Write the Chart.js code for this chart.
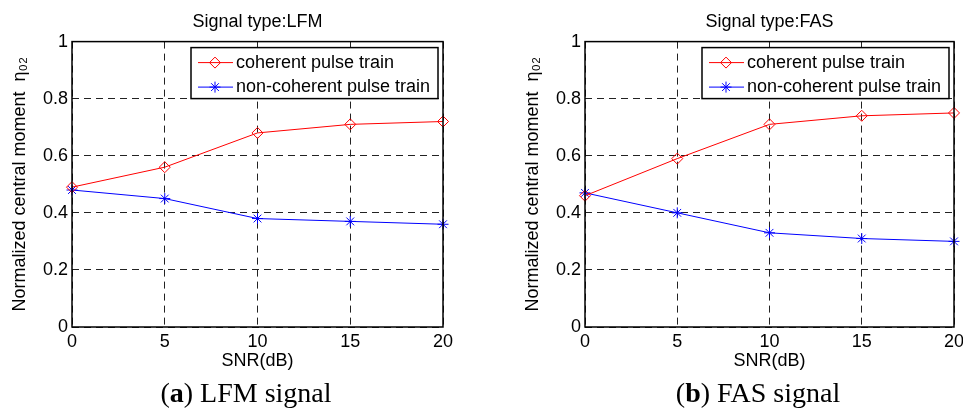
<!DOCTYPE html>
<html>
<head>
<meta charset="utf-8">
<script src="https://cdn.jsdelivr.net/npm/chart.js@4.4.1/dist/chart.umd.min.js"></script>
<style>
  html, body { margin: 0; padding: 0; background: #fff; }
  body { width: 963px; height: 410px; overflow: hidden; position: relative; }
  .panel { position: absolute; top: 0; width: 480px; height: 380px; }
  .caption { position: absolute; top: 379px; width: 300px; text-align: center;
             font: 28px/28px "Liberation Serif", "DejaVu Serif", serif; color: #000; }
</style>
</head>
<body>
<div class="panel" style="left:0"><canvas id="lfmChart" width="480" height="380"></canvas></div>
<div class="panel" style="left:513px"><canvas id="fasChart" width="480" height="380"></canvas></div>
<div class="caption" style="left:96px">(<b>a</b>) LFM signal</div>
<div class="caption" style="left:608px">(<b>b</b>) FAS signal</div>

<script>
var SNR = [0, 5, 10, 15, 20];

var LFM_COHERENT = [0.49, 0.56, 0.68, 0.71, 0.72];
var LFM_NON_COHERENT = [0.48, 0.45, 0.38, 0.37, 0.36];

var FAS_COHERENT = [0.46, 0.59, 0.71, 0.74, 0.75];
var FAS_NON_COHERENT = [0.47, 0.40, 0.33, 0.31, 0.30];

var SERIES_NAMES = ['coherent pulse train', 'non-coherent pulse train'];
var Y_TICKS = ['0', '0.2', '0.4', '0.6', '0.8', '1'];

Chart.defaults.font.family = '"Liberation Sans", Arial, sans-serif';
Chart.defaults.font.size = 18;
Chart.defaults.color = '#000';

function points(xs, ys) {
  return xs.map(function (x, i) { return { x: x, y: ys[i] }; });
}

// axes box plus a boxed legend in the top right corner of the plot
var boxLegend = {
  id: 'boxLegend',
  afterDatasetsDraw: function (chart) {
    var ctx = chart.ctx;
    var a = chart.chartArea;
    ctx.save();
    ctx.strokeStyle = '#000';
    ctx.lineWidth = 1.5;
    ctx.strokeRect(a.left, a.top, a.right - a.left, a.bottom - a.top);

    var bw = 247, bh = 51;
    var bx = a.right - 5 - bw, by = a.top + 6;
    ctx.fillStyle = '#fff';
    ctx.fillRect(bx, by, bw, bh);
    ctx.strokeRect(bx, by, bw, bh);

    chart.data.datasets.forEach(function (ds, i) {
      var y = by + 15 + i * 24.5;
      ctx.strokeStyle = ds.borderColor;
      ctx.lineWidth = 1;
      ctx.beginPath();
      ctx.moveTo(bx + 7, y);
      ctx.lineTo(bx + 42, y);
      ctx.stroke();
      ctx.fillStyle = 'rgba(0,0,0,0)';
      Chart.helpers.drawPoint(ctx, {
        pointStyle: ds.pointStyle, radius: ds.pointRadius, rotation: 0, borderWidth: 1
      }, bx + 24, y);
      ctx.fillStyle = '#000';
      ctx.font = '18px "Liberation Sans", Arial, sans-serif';
      ctx.textBaseline = 'middle';
      ctx.textAlign = 'left';
      ctx.fillText(ds.label, bx + 45, y);
    });
    ctx.restore();
  }
};

function makeChart(id, title, coherent, nonCoherent, padRight) {
  var grid = { color: '#222', lineWidth: 1, drawTicks: false };
  var border = { display: false, dash: [7, 5] };
  return new Chart(document.getElementById(id), {
    type: 'line',
    data: {
      datasets: [{
        label: SERIES_NAMES[0],
        data: points(SNR, coherent),
        borderColor: '#ff0000',
        borderWidth: 1,
        pointStyle: 'rectRot',
        pointRadius: 5.5,
        pointBorderWidth: 1,
        pointBorderColor: '#ff0000',
        pointBackgroundColor: 'rgba(0,0,0,0)',
        tension: 0,
        clip: false
      }, {
        label: SERIES_NAMES[1],
        data: points(SNR, nonCoherent),
        borderColor: '#0000ff',
        borderWidth: 1,
        pointStyle: 'star',
        pointRadius: 5.5,
        pointBorderWidth: 1,
        pointBorderColor: '#0000ff',
        pointBackgroundColor: 'rgba(0,0,0,0)',
        tension: 0,
        clip: false
      }]
    },
    options: {
      responsive: false,
      animation: false,
      events: [],
      layout: { padding: { left: 0, right: padRight, top: 0, bottom: 0 } },
      plugins: {
        legend: { display: false },
        tooltip: { enabled: false },
        title: {
          display: true,
          text: title,
          fullSize: false,
          font: { size: 18, weight: 'normal' },
          color: '#000',
          padding: { top: 11, bottom: 9 }
        }
      },
      scales: {
        x: {
          type: 'linear',
          min: 0,
          max: 20,
          ticks: { stepSize: 5, padding: 4 },
          grid: grid,
          border: border,
          title: { display: true, text: 'SNR(dB)', padding: { top: 0, bottom: 8 } },
          afterFit: function (s) { s.height = 53; }
        },
        y: {
          min: 0,
          max: 1,
          ticks: {
            stepSize: 0.2,
            padding: 4,
            callback: function (v, i) { return Y_TICKS[i] !== undefined ? Y_TICKS[i] : v; }
          },
          grid: grid,
          border: border,
          title: { display: true, text: 'Normalized central moment  η₀₂', padding: { top: 9, bottom: 0 } },
          afterFit: function (s) { s.width = 72; }
        }
      }
    },
    plugins: [boxLegend]
  });
}

makeChart('lfmChart', 'Signal type:LFM', LFM_COHERENT, LFM_NON_COHERENT, 37);
makeChart('fasChart', 'Signal type:FAS', FAS_COHERENT, FAS_NON_COHERENT, 39);
</script>
</body>
</html>
